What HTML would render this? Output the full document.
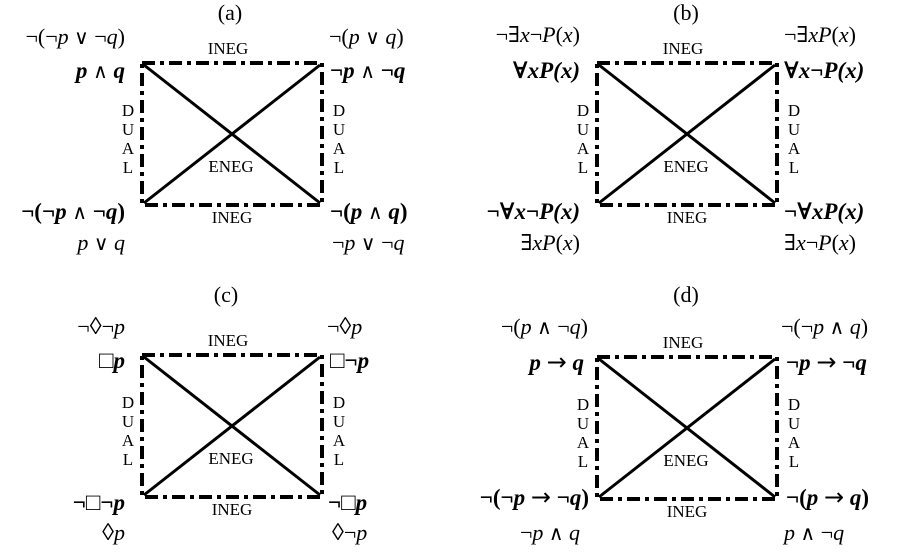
<!DOCTYPE html>
<html><head><meta charset="utf-8"><style>
html,body{margin:0;padding:0;background:#fff;}
svg{display:block;font-family:"Liberation Serif","DejaVu Serif",serif;}
.t{font-size:22px;}
.b{font-size:23px;font-weight:bold;}
.s{font-size:17px;}
.o{font-weight:normal;font-size:20px;}
.ar{font-weight:normal;font-size:24px;font-family:"DejaVu Sans",sans-serif;}
.dm{font-size:24px;}
.dd{stroke:#000;stroke-width:4;stroke-dasharray:13 5 4 5;fill:none;}
.x{stroke:#000;stroke-width:3;}
</style></head><body>
<svg width="897" height="554" viewBox="0 0 897 554" xmlns="http://www.w3.org/2000/svg">
<defs>
<g id="box">
<rect x="142" y="63" width="180" height="142" class="dd"/>
<line x1="144" y1="65" x2="320" y2="203" class="x"/>
<line x1="144" y1="203" x2="320" y2="65" class="x"/>
<text x="228" y="54" class="s" text-anchor="middle">INEG</text>
<text x="232" y="223" class="s" text-anchor="middle">INEG</text>
<text x="231" y="172" class="s" text-anchor="middle">ENEG</text>
<g class="s" text-anchor="middle">
<text x="128" y="116">D</text><text x="128" y="135">U</text><text x="128" y="154">A</text><text x="128" y="173">L</text>
<text x="339" y="116">D</text><text x="339" y="135">U</text><text x="339" y="154">A</text><text x="339" y="173">L</text>
</g>
</g>
</defs>
<!-- (a) -->
<text x="230" y="20" class="t" text-anchor="middle">(a)</text>
<use href="#box"/>
<text x="125" y="44" class="t" text-anchor="end">¬(¬<tspan font-style="italic">p</tspan> <tspan class="o">∨</tspan> ¬<tspan font-style="italic">q</tspan>)</text>
<text x="125" y="78" class="b" text-anchor="end"><tspan font-style="italic">p</tspan> <tspan class="o">∧</tspan> <tspan font-style="italic">q</tspan></text>
<text x="125" y="219" class="b" text-anchor="end">¬(¬<tspan font-style="italic">p</tspan> <tspan class="o">∧</tspan> ¬<tspan font-style="italic">q</tspan>)</text>
<text x="125" y="250" class="t" text-anchor="end"><tspan font-style="italic">p</tspan> <tspan class="o">∨</tspan> <tspan font-style="italic">q</tspan></text>
<text x="329" y="44" class="t">¬(<tspan font-style="italic">p</tspan> <tspan class="o">∨</tspan> <tspan font-style="italic">q</tspan>)</text>
<text x="330" y="78" class="b">¬<tspan font-style="italic">p</tspan> <tspan class="o">∧</tspan> ¬<tspan font-style="italic">q</tspan></text>
<text x="330" y="219" class="b">¬(<tspan font-style="italic">p</tspan> <tspan class="o">∧</tspan> <tspan font-style="italic">q</tspan>)</text>
<text x="332" y="250" class="t">¬<tspan font-style="italic">p</tspan> <tspan class="o">∨</tspan> ¬<tspan font-style="italic">q</tspan></text>
<!-- (b) -->
<text x="686" y="20" class="t" text-anchor="middle">(b)</text>
<use href="#box" x="455"/>
<text x="580" y="42" class="t" text-anchor="end">¬∃<tspan font-style="italic">x</tspan>¬<tspan font-style="italic">P</tspan>(<tspan font-style="italic">x</tspan>)</text>
<text x="580" y="78" class="b" text-anchor="end" font-style="italic"><tspan font-style="normal">∀</tspan>xP(x)</text>
<text x="580" y="219" class="b" text-anchor="end" font-style="italic"><tspan font-style="normal">¬∀</tspan>x<tspan font-style="normal">¬</tspan>P(x)</text>
<text x="580" y="250" class="t" text-anchor="end">∃<tspan font-style="italic">xP</tspan>(<tspan font-style="italic">x</tspan>)</text>
<text x="784" y="42" class="t">¬∃<tspan font-style="italic">xP</tspan>(<tspan font-style="italic">x</tspan>)</text>
<text x="784" y="78" class="b" font-style="italic"><tspan font-style="normal">∀</tspan>x<tspan font-style="normal">¬</tspan>P(x)</text>
<text x="784" y="219" class="b" font-style="italic"><tspan font-style="normal">¬∀</tspan>xP(x)</text>
<text x="784" y="250" class="t">∃<tspan font-style="italic">x</tspan>¬<tspan font-style="italic">P</tspan>(<tspan font-style="italic">x</tspan>)</text>
<!-- (c) -->
<text x="226" y="302" class="t" text-anchor="middle">(c)</text>
<use href="#box" y="292"/>
<text x="125" y="334" class="t" text-anchor="end">¬<tspan class="dm">◊</tspan>¬<tspan font-style="italic">p</tspan></text>
<text x="125" y="368" class="b" text-anchor="end"><tspan class="dm" font-weight="normal">□</tspan><tspan font-style="italic">p</tspan></text>
<text x="125" y="510" class="b" text-anchor="end">¬<tspan class="dm" font-weight="normal">□</tspan>¬<tspan font-style="italic">p</tspan></text>
<text x="125" y="540" class="t" text-anchor="end"><tspan class="dm">◊</tspan><tspan font-style="italic">p</tspan></text>
<text x="327" y="334" class="t">¬<tspan class="dm">◊</tspan><tspan font-style="italic">p</tspan></text>
<text x="330" y="368" class="b"><tspan class="dm" font-weight="normal">□</tspan>¬<tspan font-style="italic">p</tspan></text>
<text x="328" y="510" class="b">¬<tspan class="dm" font-weight="normal">□</tspan><tspan font-style="italic">p</tspan></text>
<text x="332" y="540" class="t"><tspan class="dm">◊</tspan>¬<tspan font-style="italic">p</tspan></text>
<!-- (d) -->
<text x="686" y="302" class="t" text-anchor="middle">(d)</text>
<use href="#box" x="455" y="294"/>
<text x="588" y="334" class="t" text-anchor="end">¬(<tspan font-style="italic">p</tspan> <tspan class="o">∧</tspan> ¬<tspan font-style="italic">q</tspan>)</text>
<text x="584" y="370" class="b" text-anchor="end"><tspan font-style="italic">p</tspan> <tspan class="ar">→</tspan> <tspan font-style="italic">q</tspan></text>
<text x="589" y="505" class="b" text-anchor="end">¬(¬<tspan font-style="italic">p</tspan> <tspan class="ar">→</tspan> ¬<tspan font-style="italic">q</tspan>)</text>
<text x="580" y="540" class="t" text-anchor="end">¬<tspan font-style="italic">p</tspan> <tspan class="o">∧</tspan> <tspan font-style="italic">q</tspan></text>
<text x="781" y="334" class="t">¬(¬<tspan font-style="italic">p</tspan> <tspan class="o">∧</tspan> <tspan font-style="italic">q</tspan>)</text>
<text x="786" y="370" class="b">¬<tspan font-style="italic">p</tspan> <tspan class="ar">→</tspan> ¬<tspan font-style="italic">q</tspan></text>
<text x="786" y="505" class="b">¬(<tspan font-style="italic">p</tspan> <tspan class="ar">→</tspan> <tspan font-style="italic">q</tspan>)</text>
<text x="784" y="540" class="t"><tspan font-style="italic">p</tspan> <tspan class="o">∧</tspan> ¬<tspan font-style="italic">q</tspan></text>
</svg>
</body></html>
